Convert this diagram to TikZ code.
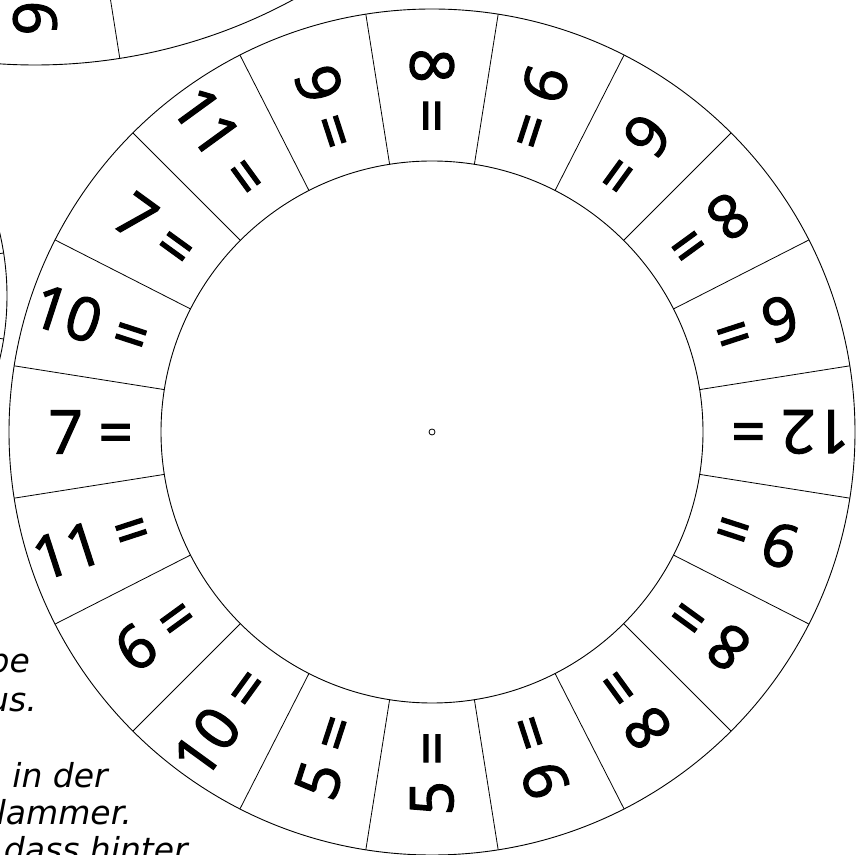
\documentclass[tikz,border=0pt]{standalone}
\usepackage{fontspec}
\setmainfont{Open Sans}
\newfontfamily\sumfont{Open Sans}[FakeBold=2]
\newfontfamily\notefont{DejaVu Sans}
\usepackage{tikz}
\tikzset{
  rim/.style={draw=black, line width=0.9pt},
  spoke/.style={draw=black, line width=0.8pt},
  hub/.style={draw=black, line width=0.8pt},
  sum/.style={font=\sumfont\fontsize{60}{60}\selectfont, inner sep=0pt, anchor=east},
  note/.style={font=\notefont\itshape\fontsize{33}{33}\selectfont, inner sep=0pt, anchor=base east}
}

\begin{document}
\begin{tikzpicture}[x=1pt, y=1pt]
  \useasboundingbox (0,0) rectangle (867,854);
  \clip (0,0) rectangle (867,854);

  % Main wheel
  \begin{scope}[shift={(432,422)}]
    \coordinate (c) at (0,0);
    \draw[rim] (c) circle[radius=423];
    \draw[rim] (c) circle[radius=271];
    \draw[hub] (c) circle[radius=3];
    \foreach \a in {9,27,...,351}
      \draw[spoke] (\a:271) -- (\a:423);
    \foreach \a/\n [count=\i] in {90/8, 108/9, 126/11, 144/7, 162/10, 180/7,
        198/11, 216/6, 234/10, 252/5, 270/5, 288/9, 306/8, 324/8, 342/9,
        0/12, 18/6, 36/8, 54/6, 72/9}
      \node[sum, rotate=\a+180] (s\i) at (\a:299) {\n\ =};
  \end{scope}

  % Wheel at top left
  \begin{scope}[shift={(35,1331)}]
    \draw[rim] (0,0) circle[radius=542];
    \foreach \a in {-99,-81}
      \draw[spoke] (\a:390) -- (\a:542);
    \node[sum, rotate=90] (t1) at (-90:428) {9 =};
  \end{scope}

  % Wheel at left
  \begin{scope}[shift={(-268,558)}]
    \draw[rim] (0,0) circle[radius=275];
    \foreach \a in {-9,9}
      \draw[spoke] (\a:150) -- (\a:275);
  \end{scope}

  % Instructions (cut off)
  \node[note] (n1) at (30,181) {be};
  \node[note] (n2) at (37,142) {us.};
  \node[note] (n3) at (108,67) {in der};
  \node[note] (n4) at (132,30) {lammer.};
  \node[note] (n5) at (188,-7) {dass hinter};
\end{tikzpicture}
\end{document}
